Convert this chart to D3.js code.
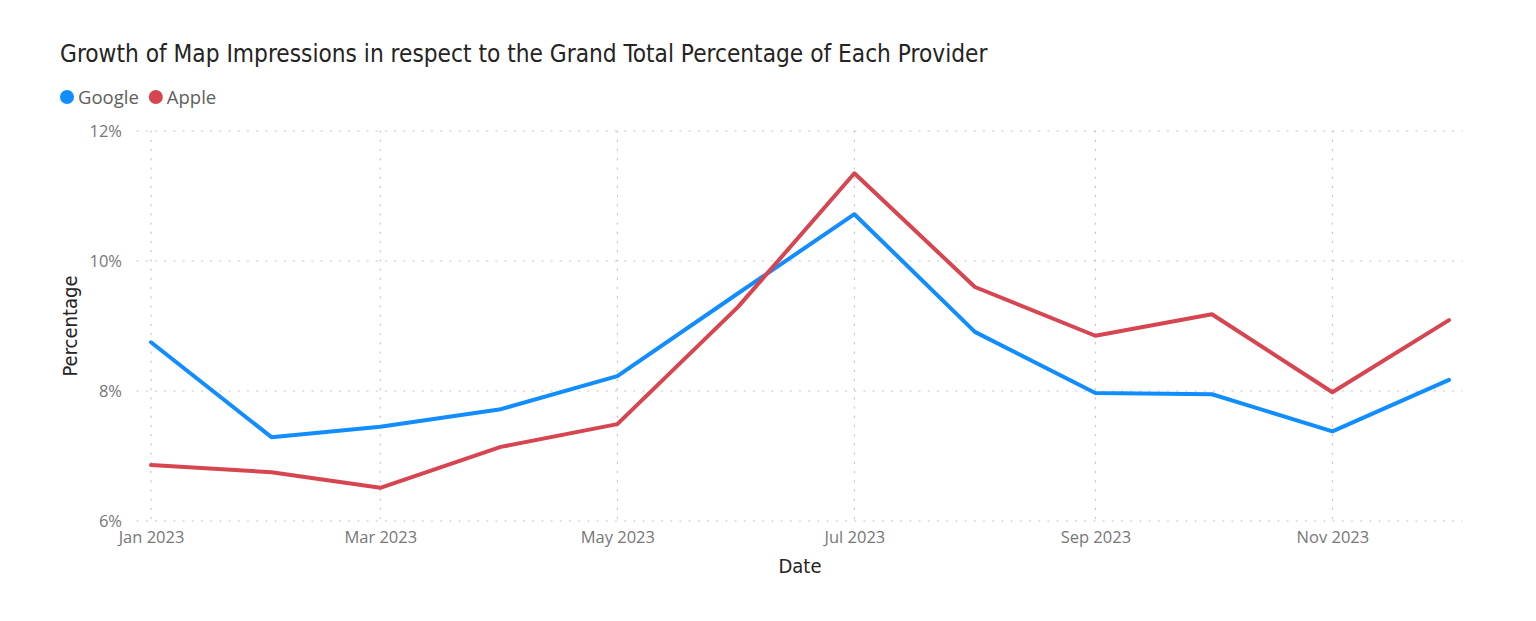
<!DOCTYPE html>
<html><head><meta charset="utf-8">
<script src="https://cdn.jsdelivr.net/npm/d3@7"></script>
<style>body{margin:0;background:#fff}svg{display:block}</style>
</head><body>
<svg id="c" width="1536" height="621"></svg>
<script>
const months = ["2023-01-01","2023-02-01","2023-03-01","2023-04-01","2023-05-01","2023-06-01","2023-07-01","2023-08-01","2023-09-01","2023-10-01","2023-11-01","2023-12-01"];
const google = [8.75, 7.29, 7.45, 7.72, 8.23, 9.50, 10.72, 8.91, 7.97, 7.95, 7.38, 8.17];
const apple  = [6.86, 6.75, 6.51, 7.14, 7.49, 9.29, 11.35, 9.60, 8.85, 9.18, 7.98, 9.09];
const yTicks = [6, 8, 10, 12];
const xTickMonths = ["2023-01-01","2023-03-01","2023-05-01","2023-07-01","2023-09-01","2023-11-01"];
const seriesNames = ["Google", "Apple"];
const colors = ["#118DFF", "#D64550"];
const titleText = "Growth of Map Impressions in respect to the Grand Total Percentage of Each Provider";

const parse = d3.utcParse("%Y-%m-%d");
const dates = months.map(parse);
const svg = d3.select("#c");
const font = "'Open Sans', 'Noto Sans', sans-serif";
const headFont = "'DejaVu Sans Condensed', 'DejaVu Sans', sans-serif";

const x = d3.scaleUtc().domain([dates[0], dates[dates.length-1]]).range([151, 1449]);
const y = d3.scaleLinear().domain([6, 12]).range([521, 131]);
const xRightEdge = 1462, xLeftEdge = 137;

// title
const title = svg.append("text").attr("x", 60).attr("y", 62)
  .attr("font-family", headFont)
  .attr("font-size", 21).attr("fill", "#252423").text(titleText);
let w = title.node().getComputedTextLength();
title.attr("font-size", 21 * 928 / w);

// legend
const leg = svg.append("g");
let lx = 67;
seriesNames.forEach((n, i) => {
  leg.append("circle").attr("cx", lx).attr("cy", 97).attr("r", 7).attr("fill", colors[i]);
  const t = leg.append("text").attr("x", lx + 11).attr("y", 104).attr("font-family", font)
    .attr("font-size", 18.5).attr("fill", "#605E5C").text(n);
  lx += 11 + t.node().getComputedTextLength() + 17;
});

// gridlines
const grid = svg.append("g").attr("stroke", "#C8C6C4").attr("stroke-width", 1.2)
  .attr("stroke-dasharray", "1.2,8").attr("stroke-linecap", "round");
yTicks.forEach(v => {
  grid.append("line").attr("x1", xLeftEdge).attr("x2", xRightEdge).attr("y1", y(v)).attr("y2", y(v));
});
xTickMonths.map(parse).forEach(d => {
  grid.append("line").attr("x1", x(d)).attr("x2", x(d)).attr("y1", y(12)).attr("y2", y(6));
});

// y axis labels
const yAxis = svg.append("g").attr("transform", "translate(122,0)")
  .call(d3.axisLeft(y).tickValues(yTicks).tickFormat(d => d + "%").tickSize(0).tickPadding(0));
yAxis.select(".domain").remove();
yAxis.selectAll("text").attr("font-family", font).attr("font-size", 16.5).attr("fill", "#777").attr("dy", "0.36em");

// x axis labels
const xAxis = svg.append("g").attr("transform", "translate(0,543)")
  .call(d3.axisBottom(x).tickValues(xTickMonths.map(parse)).tickFormat(d3.utcFormat("%b %Y")).tickSize(0).tickPadding(0));
xAxis.select(".domain").remove();
xAxis.selectAll("text").attr("font-family", font).attr("font-size", 16.5).attr("fill", "#777").attr("y", 0).attr("dy", 0);

// axis titles
svg.append("text").attr("x", 800).attr("y", 573).attr("text-anchor", "middle")
  .attr("font-family", headFont).attr("font-size", 20).attr("fill", "#252423").text("Date");
svg.append("text").attr("transform", "translate(77,326) rotate(-90)").attr("text-anchor", "middle")
  .attr("font-family", headFont).attr("font-size", 20).attr("fill", "#252423").text("Percentage");

// lines
const line = d3.line().x((d, i) => x(dates[i])).y(d => y(d));
[google, apple].forEach((s, i) => {
  svg.append("path").datum(s).attr("d", line).attr("fill", "none")
    .attr("stroke", colors[i]).attr("stroke-width", 4).attr("stroke-linejoin", "round").attr("stroke-linecap", "round");
});
</script>
</body></html>
